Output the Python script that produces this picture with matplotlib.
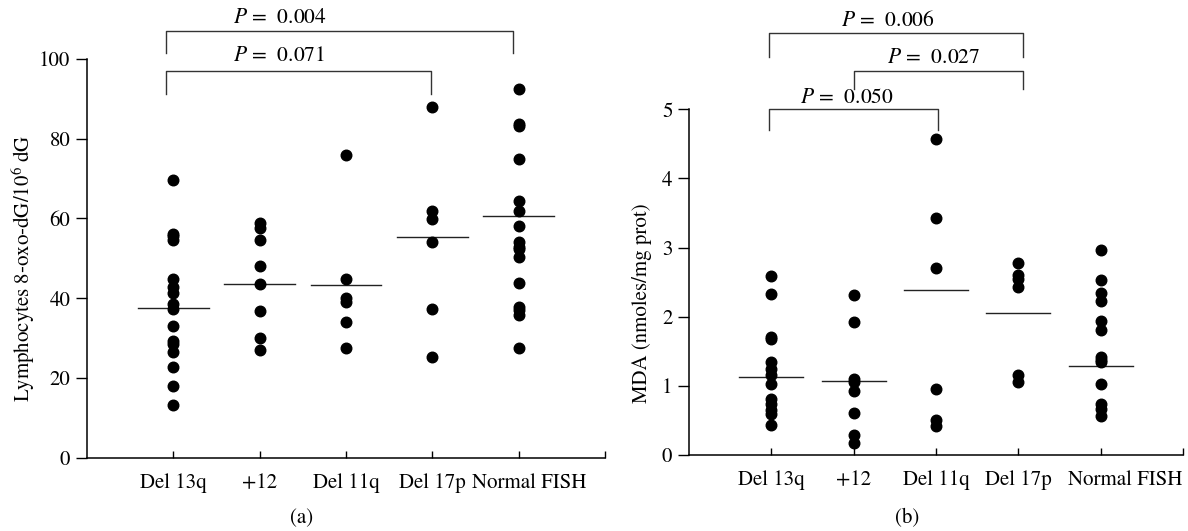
import numpy as np
import matplotlib
matplotlib.use("Agg")
import matplotlib.pyplot as plt
from matplotlib.transforms import ScaledTranslation

plt.rcParams['font.family'] = ['STIXGeneral', 'DejaVu Serif']
plt.rcParams['mathtext.fontset'] = 'stix'

groups = ['Del 13q', '+12', 'Del 11q', 'Del 17p', 'Normal FISH']

# panel (a): lymphocytes 8-oxo-dG/10^6 dG
oxo_del13q = [69.7, 56.2, 55.5, 54.7, 44.7, 42.8, 41.2, 38.6, 37.2, 33.0, 29.2, 28.4, 26.4, 22.8, 18.1, 13.1]
oxo_plus12 = [58.8, 57.6, 54.7, 48.1, 43.5, 36.8, 29.9, 27.1]
oxo_del11q = [75.8, 44.7, 40.0, 39.0, 34.0, 27.5]
oxo_del17p = [87.9, 61.8, 59.8, 54.1, 37.2, 25.2]
oxo_normal = [92.5, 83.8, 83.2, 75.0, 64.5, 61.8, 58.0, 54.1, 52.8, 52.3, 50.3, 43.9, 37.8, 37.0, 35.7, 27.5]
oxo_median = [37.5, 43.5, 43.2, 55.3, 60.7]

# panel (b): MDA (nmoles/mg prot)
mda_del13q = [2.59, 2.33, 1.71, 1.68, 1.35, 1.24, 1.16, 1.03, 0.81, 0.74, 0.65, 0.60, 0.44]
mda_plus12 = [2.31, 1.93, 1.10, 1.06, 0.92, 0.61, 0.29, 0.17]
mda_del11q = [4.57, 3.43, 2.70, 0.95, 0.51, 0.42]
mda_del17p = [2.78, 2.60, 2.54, 2.43, 1.16, 1.05]
mda_normal = [2.97, 2.53, 2.35, 2.23, 1.94, 1.81, 1.42, 1.37, 1.35, 1.03, 0.74, 0.66, 0.57]
mda_median = [1.13, 1.07, 2.38, 2.05, 1.29]

fig = plt.figure(figsize=(11.88, 5.31), dpi=100)
W, H = 1188, 531


def panel(rect, series, medians, ymax, yticks, ylabel, half, label_shift):
    ax = fig.add_axes(rect)
    for i, vals in enumerate(series):
        x = i + 1
        ax.plot([x] * len(vals), vals, 'o', color='black', ms=7.6, clip_on=False, zorder=3)
        ax.plot([x - half, x + half], [medians[i]] * 2, color='#222222', lw=1.0, zorder=2)
    ax.set_xlim(0, 6)
    ax.set_ylim(0, ymax)
    ax.spines['top'].set_visible(False)
    ax.spines['right'].set_visible(False)
    for s in ('left', 'bottom'):
        ax.spines[s].set_linewidth(1.1)
    ax.set_xticks([1, 2, 3, 4, 5, 6])
    ax.set_xticklabels(groups + [''], fontsize=15)
    ax.tick_params(axis='x', direction='in', length=5, width=1, pad=11)
    # last label sits to the right of its tick in the original
    lab = ax.get_xticklabels()[4]
    lab.set_transform(lab.get_transform() + ScaledTranslation(label_shift / 100, 0, fig.dpi_scale_trans))
    ax.set_yticks(yticks)
    ax.tick_params(axis='y', direction='out', length=8, width=1, labelsize=15, pad=4)
    ax.set_ylabel(ylabel, fontsize=15)
    return ax


def bracket(ax, x0, x1, ytop, ybot0, ybot1):
    ax.plot([x0, x0, x1, x1], [ybot0, ytop, ytop, ybot1], color='#333333', lw=1.0, clip_on=False)


# left panel: axis from x=87 to 605 px, y 0 at 457.7 px, 100 at 59 px
axa = panel([87 / W, (H - 457.7) / H, 518 / W, 398.7 / H],
            [oxo_del13q, oxo_plus12, oxo_del11q, oxo_del17p, oxo_normal],
            oxo_median, 100, [0, 20, 40, 60, 80, 100],
            r'Lymphocytes 8-oxo-dG/10$^6$ dG', 0.41, 11)
axa.yaxis.set_label_coords(-0.097, 0.476)
bracket(axa, 0.91, 4.94, 107.1, 101.5, 101.5)
bracket(axa, 0.91, 3.98, 97.0, 91.1, 91.1)
axa.text(2.23, 110.3, r'$P$ =  0.004', ha='center', va='center', fontsize=15.5, clip_on=False)
axa.text(2.22, 100.7, r'$P$ =  0.071', ha='center', va='center', fontsize=15.5, clip_on=False)

# right panel: axis from x=689 to 1183 px, y 0 at 455 px, 5 at 109.3 px
axb = panel([689 / W, (H - 455) / H, 494 / W, 345.7 / H],
            [mda_del13q, mda_plus12, mda_del11q, mda_del17p, mda_normal],
            mda_median, 5, [0, 1, 2, 3, 4, 5],
            'MDA (nmoles/mg prot)', 0.39, 25)
axb.yaxis.set_label_coords(-0.075, 0.438)
bracket(axb, 0.976, 4.06, 6.11, 5.75, 5.75)
bracket(axb, 2.006, 4.06, 5.56, 5.30, 5.30)
bracket(axb, 0.976, 3.03, 5.01, 4.70, 4.70)
axb.text(2.41, 6.28, r'$P$ =  0.006', ha='center', va='center', fontsize=15.5, clip_on=False)
axb.text(2.97, 5.74, r'$P$ =  0.027', ha='center', va='center', fontsize=15.5, clip_on=False)
axb.text(1.92, 5.16, r'$P$ =  0.050', ha='center', va='center', fontsize=15.5, clip_on=False)

fig.text(301.7 / W, 1 - 518 / H, '(a)', ha='center', va='center', fontsize=15)
fig.text(907 / W, 1 - 518 / H, '(b)', ha='center', va='center', fontsize=15)

fig.savefig('out.png', dpi=100)
